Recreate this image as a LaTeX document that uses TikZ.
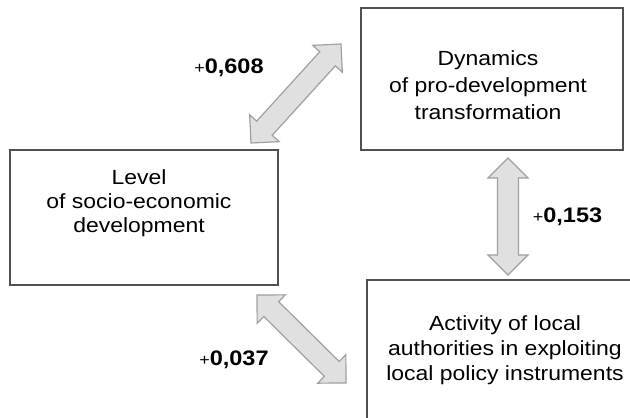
\documentclass[tikz,border=0pt]{standalone}
\usepackage{fontspec}
\setmainfont{Liberation Sans}[FakeStretch=1.12]
\usetikzlibrary{calc}
\definecolor{boxline}{HTML}{505050}
\definecolor{arrfill}{HTML}{E0E0E0}
\definecolor{arrline}{HTML}{A0A0A0}
\tikzset{
  box/.style={draw=boxline, line width=1.1pt, rectangle, inner sep=0pt},
  boxtext/.style={align=center, inner sep=0pt, text=black},
  arrowshape/.style={draw=arrline, fill=arrfill, line width=1.2pt, line join=miter},
  corrlabel/.style={anchor=base, inner sep=0pt, font=\fontsize{21}{21}\selectfont}
}
\newcommand\mydblarrow[2]{%
  \coordinate (#1h) at ($(#1)!20pt!(#2)$);
  \coordinate (#2h) at ($(#2)!20pt!(#1)$);
  \draw[arrowshape] (#1)
    -- ($(#1h)!20pt!90:(#2)$) -- ($(#1h)!10.5pt!90:(#2)$)
    -- ($(#2h)!10.5pt!-90:(#1)$) -- ($(#2h)!20pt!-90:(#1)$)
    -- (#2)
    -- ($(#2h)!20pt!90:(#1)$) -- ($(#2h)!10.5pt!90:(#1)$)
    -- ($(#1h)!10.5pt!-90:(#2)$) -- ($(#1h)!20pt!-90:(#2)$)
    -- cycle;
}
\newcommand\plussign{{\fontsize{16}{16}\selectfont\mdseries +}}
\begin{document}
\begin{tikzpicture}[x=1pt,y=-1pt]
\useasboundingbox (0,0) rectangle (630,418);
\clip (0,0) rectangle (630,418);
\fill[white] (0,0) rectangle (630,418);

% boxes
\node[box, minimum width=268pt, minimum height=135pt] (level) at (144,217.5) {};
\node[box, minimum width=262pt, minimum height=142pt] (dyn) at (492,79) {};
\node[box, minimum width=283pt, minimum height=160pt] (act) at (508.5,360) {};

\node[boxtext, font=\fontsize{20.5}{24}\selectfont] (leveltxt) at (139,203)
  {Level\\of socio-economic\\development};
\node[boxtext, font=\fontsize{20.5}{27}\selectfont] (dyntxt) at (488,85)
  {Dynamics\\of pro-development\\transformation};
\node[boxtext, font=\fontsize{20.5}{25}\selectfont] (acttxt) at (505,350)
  {Activity of local\\authorities in exploiting\\local policy instruments};

% arrows
\coordinate (a1) at (251,143);
\coordinate (b1) at (341,44);
\coordinate (a2) at (508,158);
\coordinate (b2) at (508,275);
\coordinate (a3) at (257,295);
\coordinate (b3) at (346,383);
\mydblarrow{a1}{b1}
\mydblarrow{a2}{b2}
\mydblarrow{a3}{b3}

% labels
\node[corrlabel] (l1) at (229,73) {\plussign\textbf{0,608}};
\node[corrlabel] (l2) at (567.5,222) {\plussign\textbf{0,153}};
\node[corrlabel] (l3) at (234,365) {\plussign\textbf{0,037}};
\end{tikzpicture}
\end{document}
